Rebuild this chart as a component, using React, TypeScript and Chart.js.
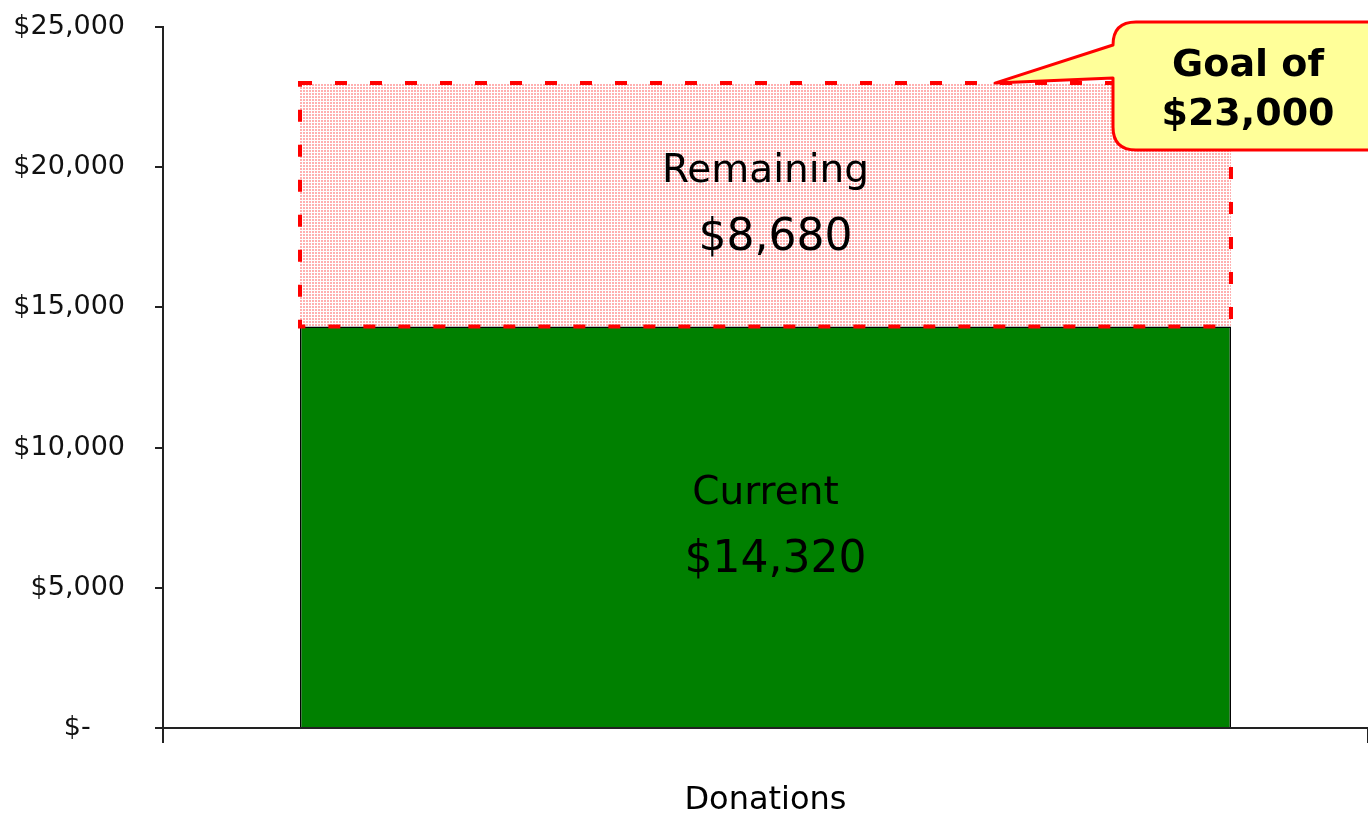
import React, { useEffect, useRef } from 'react';
import { Chart, registerables } from 'chart.js';

Chart.register(...registerables);

const categories = ['Donations'];
const seriesNames = ['Current', 'Remaining'];
const currentValues = [14320];
const remainingValues = [8680];
const goalValues = [23000];
const goalLabel = 'Goal of';
const yMin = 0;
const yMax = 25000;
const yStep = 5000;

const fmt = (v: number) => '$' + v.toLocaleString('en-US');

function makePattern(): CanvasPattern | string {
  const c = document.createElement('canvas');
  c.width = 3;
  c.height = 3;
  const g = c.getContext('2d');
  if (!g) return '#ffdcdc';
  g.fillStyle = '#ffffff';
  g.fillRect(0, 0, 3, 3);
  g.fillStyle = '#ffb0b0';
  g.fillRect(0, 0, 2, 2);
  return g.createPattern(c, 'repeat') || '#ffdcdc';
}

const annotPlugin = {
  id: 'annot',
  afterDatasetsDraw(chart: any) {
    const ctx = chart.ctx as CanvasRenderingContext2D;
    const yScale = chart.scales.y;
    const area = chart.chartArea;
    const cur = chart.getDatasetMeta(0).data[0] as any;
    const rem = chart.getDatasetMeta(1).data[0] as any;
    if (!cur || !rem) return;

    // dashed red outline of the remaining block
    const rl = rem.x - rem.width / 2;
    ctx.save();
    ctx.strokeStyle = '#ff0000';
    ctx.lineWidth = 4;
    ctx.setLineDash([12, 23]);
    ctx.strokeRect(rl, rem.y, rem.width, rem.base - rem.y);
    ctx.restore();

    // labels
    ctx.save();
    ctx.fillStyle = '#000000';
    ctx.textAlign = 'center';
    ctx.textBaseline = 'middle';
    const cMid = (cur.y + cur.base) / 2;
    const rMid = (rem.y + rem.base) / 2;
    ctx.font = '39px "DejaVu Sans"';
    ctx.fillText(seriesNames[0], cur.x, cMid - 33);
    ctx.fillText(seriesNames[1], rem.x, rMid - 33);
    ctx.font = '44px "DejaVu Sans"';
    ctx.fillText(fmt(currentValues[0]), cur.x + 10, cMid + 34);
    ctx.fillText(fmt(remainingValues[0]), rem.x + 10, rMid + 34);
    ctx.restore();

    // callout
    const tipY = yScale.getPixelForValue(goalValues[0]);
    const tipX = rem.x + rem.width / 2 - 236;
    const left = area.right - 255;
    const top = 22;
    const bottom = 150;
    const right = area.right + 40;
    const r = 23;
    ctx.save();
    ctx.beginPath();
    ctx.moveTo(left + r, top);
    ctx.lineTo(right, top);
    ctx.lineTo(right, bottom);
    ctx.lineTo(left + r, bottom);
    ctx.quadraticCurveTo(left, bottom, left, bottom - r);
    ctx.lineTo(left, tipY - 5);
    ctx.lineTo(tipX, tipY);
    ctx.lineTo(left, top + r);
    ctx.quadraticCurveTo(left, top, left + r, top);
    ctx.closePath();
    ctx.fillStyle = '#ffff99';
    ctx.fill();
    ctx.strokeStyle = '#ff0000';
    ctx.lineWidth = 3;
    ctx.lineJoin = 'round';
    ctx.stroke();
    ctx.fillStyle = '#000000';
    ctx.textAlign = 'center';
    ctx.textBaseline = 'middle';
    ctx.font = 'bold 38px "DejaVu Sans"';
    ctx.fillText(goalLabel, left + 135, 66);
    ctx.fillText(fmt(goalValues[0]), left + 135, 115);
    ctx.restore();
  },
};

export default function App() {
  const ref = useRef<HTMLCanvasElement>(null);
  useEffect(() => {
    if (!ref.current) return;
    const chart = new Chart(ref.current, {
      type: 'bar',
      data: {
        labels: categories,
        datasets: [
          {
            label: seriesNames[0],
            data: currentValues,
            backgroundColor: '#008000',
            borderColor: '#000000',
            borderWidth: 1.5,
            borderSkipped: 'bottom',
            stack: 's',
          },
          {
            label: seriesNames[1],
            data: remainingValues,
            backgroundColor: makePattern() as any,
            borderWidth: 0,
            stack: 's',
          },
        ],
      },
      options: {
        animation: false,
        responsive: false,
        maintainAspectRatio: false,
        layout: { padding: { top: 27, left: 0, right: 0, bottom: 0 } },
        plugins: { legend: { display: false }, tooltip: { enabled: false } },
        datasets: { bar: { categoryPercentage: 1, barPercentage: 0.7726 } },
        scales: {
          x: {
            stacked: true,
            offset: true,
            afterFit: (s: any) => { s.height = 89; s.paddingLeft = 0; s.paddingRight = 0; },
            grid: { offset: true, drawOnChartArea: false, tickLength: 15, color: '#222', lineWidth: 2 },
            border: { color: '#222', width: 2 },
            ticks: { padding: 42, color: '#000', font: { family: 'DejaVu Sans', size: 32, lineHeight: 1 } },
          },
          y: {
            stacked: true,
            min: yMin,
            max: yMax,
            afterFit: (s: any) => { s.width = 163; s.paddingTop = 0; s.paddingBottom = 0; },
            grid: { drawOnChartArea: false, tickLength: 8, color: '#222', lineWidth: 2 },
            border: { color: '#222', width: 2 },
            ticks: {
              stepSize: yStep,
              padding: 30,
              color: '#111',
              font: { family: 'DejaVu Sans', size: 27 },
              callback: (v: any) => (Number(v) === 0 ? '$-\u00a0\u00a0\u00a0\u00a0' : fmt(Number(v))),
            },
          },
        },
      },
      plugins: [annotPlugin],
    });
    return () => chart.destroy();
  }, []);
  return (
    <div style={{ position: 'fixed', left: 0, top: 0, width: 1368, height: 817, background: '#fff' }}>
      <canvas ref={ref} width={1368} height={817} style={{ width: 1368, height: 817, display: 'block' }} />
    </div>
  );
}
